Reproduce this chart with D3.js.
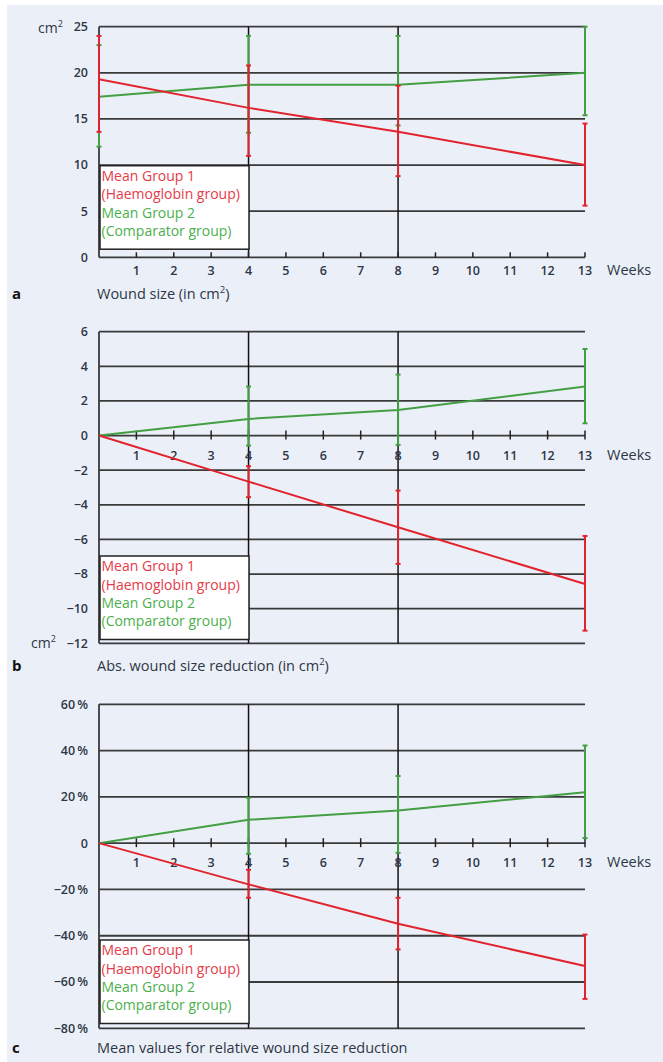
<!DOCTYPE html>
<html>
<head>
<meta charset="utf-8">
<script src="https://cdn.jsdelivr.net/npm/d3@7"></script>
<style>
  html, body { margin: 0; padding: 0; background: #fff; }
  svg { display: block; }
  text { font-family: "Open Sans", "Noto Sans", sans-serif; }
</style>
</head>
<body>
<svg id="chart" width="663" height="1062"></svg>
<script>
// data
const weeks = [0, 4, 8, 13];
const weekTicks = [1, 2, 3, 4, 5, 6, 7, 8, 9, 10, 11, 12, 13];

// a: wound size (cm2)
const sizeTicks = [0, 5, 10, 15, 20, 25];
const sizeG1 = [19.3, 16.2, 13.6, 10.0];
const sizeG1Lo = [13.6, 11.0, 8.8, 5.6];
const sizeG1Hi = [24.0, 20.8, 18.6, 14.5];
const sizeG2 = [17.4, 18.7, 18.7, 20.0];
const sizeG2Lo = [12.0, 13.5, 14.3, 15.4];
const sizeG2Hi = [23.0, 24.0, 24.0, 25.0];

// b: absolute reduction (cm2)
const absTicks = [6, 4, 2, 0, -2, -4, -6, -8, -10, -12];
const absG1 = [0, -2.66, -5.3, -8.57];
const absG1Lo = [null, -3.56, -7.41, -11.27];
const absG1Hi = [null, -1.77, -3.18, -5.8];
const absG2 = [0, 0.96, 1.48, 2.83];
const absG2Lo = [null, -0.58, -0.54, 0.71];
const absG2Hi = [null, 2.83, 3.52, 5.0];

// c: relative reduction (%)
const relTicks = [60, 40, 20, 0, -20, -40, -60, -80];
const relG1 = [0, -17.8, -34.8, -53.1];
const relG1Lo = [null, -23.6, -45.9, -67.3];
const relG1Hi = [null, -11.5, -23.6, -39.5];
const relG2 = [0, 10.1, 14.1, 22.0];
const relG2Lo = [null, -4.6, -4.2, 2.2];
const relG2Hi = [null, 19.6, 29.0, 42.2];

const legendLines = ["Mean Group 1", "(Haemoglobin group)", "Mean Group 2", "(Comparator group)"];

const red = "#e2232d", green = "#449f44";
const redText = "#e63a48", greenText = "#4bb04e";
const grid = "#3a3a3a", ink = "#2e3646";
const minus = "\u2212";

const svg = d3.select("#chart");
svg.append("rect").attr("x", 7).attr("y", 5).attr("width", 656).attr("height", 1057).attr("fill", "#ebf0f8");

const x = d3.scaleLinear().domain([0, 13]).range([99, 585]);

// green drawn first so the red group sits on top where bars overlap
const panels = [
    {letter: "a", title: ["Wound size (in cm", "2", ")"],
     y: d3.scaleLinear().domain([0, 25]).range([257.3, 26.7]), ticks: sizeTicks,
     fmt: d => `${d}`, axisAt: 0, crossTicks: false,
     unit: {x: 38, y: 33}, legendTop: 165.7, titleY: 299,
     series: [[sizeG2, sizeG2Lo, sizeG2Hi, green], [sizeG1, sizeG1Lo, sizeG1Hi, red]]},
    {letter: "b", title: ["Abs. wound size reduction (in cm", "2", ")"],
     y: d3.scaleLinear().domain([-12, 6]).range([643.3, 331.7]), ticks: absTicks,
     fmt: d => d < 0 ? `${minus}${-d}` : `${d}`, axisAt: 0, crossTicks: true,
     unit: {x: 31, y: 648}, legendTop: 556, titleY: 671,
     series: [[absG2, absG2Lo, absG2Hi, green], [absG1, absG1Lo, absG1Hi, red]]},
    {letter: "c", title: ["Mean values for relative wound size reduction"],
     y: d3.scaleLinear().domain([-80, 60]).range([1028.3, 704.3]), ticks: relTicks,
     fmt: d => d === 0 ? "0" : (d < 0 ? `${minus}${-d}\u2009%` : `${d}\u2009%`), axisAt: 0, crossTicks: true,
     unit: null, legendTop: 940, titleY: 1053,
     series: [[relG2, relG2Lo, relG2Hi, green], [relG1, relG1Lo, relG1Hi, red]]}
];

panels.forEach(p => {
    const g = svg.append("g");
    const y = p.y;
    const [y0, y1] = y.domain();

    // horizontal gridlines
    g.append("g").selectAll("line").data(p.ticks).enter().append("line")
        .attr("x1", x(0)).attr("x2", x(13))
        .attr("y1", d => y(d)).attr("y2", d => y(d))
        .style("stroke", grid).style("stroke-width", 1.8);

    // left axis + verticals at week 4 and 8
    g.append("line").attr("x1", x(0)).attr("x2", x(0)).attr("y1", y(y1)).attr("y2", y(y0))
        .style("stroke", grid).style("stroke-width", 1.8);
    g.append("g").selectAll("line").data([4, 8]).enter().append("line")
        .attr("x1", d => x(d)).attr("x2", d => x(d)).attr("y1", y(y1)).attr("y2", y(y0))
        .style("stroke", "#111").style("stroke-width", 1.5);

    // x ticks on the zero line
    const ay = y(p.axisAt);
    g.append("g").selectAll("line").data(weekTicks).enter().append("line")
        .attr("x1", d => x(d)).attr("x2", d => x(d))
        .attr("y1", ay - 5).attr("y2", p.crossTicks ? ay + 4 : ay)
        .style("stroke", "#222").style("stroke-width", 1.5);

    const lblY = ay + (p.crossTicks ? 24 : 18);
    g.append("g").selectAll("text").data(weekTicks).enter().append("text")
        .attr("x", d => x(d)).attr("y", lblY)
        .attr("text-anchor", "middle").attr("font-size", 12.5).attr("font-weight", 600).attr("fill", ink)
        .text(d => d);
    g.append("text").attr("x", 607).attr("y", lblY).attr("font-size", 14.5).attr("fill", ink).text("Weeks");

    // y tick labels
    g.append("g").selectAll("text").data(p.ticks).enter().append("text")
        .attr("x", 88).attr("y", d => y(d)).attr("dy", "0.35em")
        .attr("text-anchor", "end").attr("font-size", 12.5).attr("font-weight", 600).attr("fill", ink)
        .text(p.fmt);

    if (p.unit) {
        const u = g.append("text").attr("x", p.unit.x).attr("y", p.unit.y).attr("font-size", 14).attr("fill", ink);
        u.append("tspan").text("cm");
        u.append("tspan").attr("dy", -6).attr("font-size", 9).text("2");
    }

    // series lines and error bars
    p.series.forEach(([vals, lo, hi, col]) => {
        const pts = weeks.map((w, i) => [w, vals[i]]);
        g.append("path").datum(pts)
            .attr("d", d3.line().x(d => x(d[0])).y(d => y(d[1])))
            .style("fill", "none").style("stroke", col).style("stroke-width", 2);

        const bars = weeks.map((w, i) => ({w, lo: lo[i], hi: hi[i]})).filter(d => d.lo !== null);
        const eb = g.append("g").selectAll("g").data(bars).enter().append("g")
            .style("stroke", col).style("stroke-width", 2);
        eb.append("line").attr("x1", d => x(d.w)).attr("x2", d => x(d.w))
            .attr("y1", d => y(d.lo)).attr("y2", d => y(d.hi));
        eb.append("line").attr("x1", d => x(d.w) - 2.5).attr("x2", d => x(d.w) + 2.5)
            .attr("y1", d => y(d.lo)).attr("y2", d => y(d.lo));
        eb.append("line").attr("x1", d => x(d.w) - 2.5).attr("x2", d => x(d.w) + 2.5)
            .attr("y1", d => y(d.hi)).attr("y2", d => y(d.hi));
    });

    // legend box
    const lg = g.append("g").attr("transform", `translate(100, ${p.legendTop})`);
    lg.append("rect").attr("width", 149).attr("height", 83.5)
        .style("fill", "#fff").style("stroke", "#222").style("stroke-width", 1.5);
    lg.selectAll("text").data(legendLines).enter().append("text")
        .attr("x", 1.5).attr("y", (d, i) => 10.5 + i * 18.3).attr("dy", "0.35em")
        .attr("font-size", 14)
        .attr("fill", (d, i) => i < 2 ? redText : greenText)
        .text(d => d);

    // panel letter and title
    g.append("text").attr("x", 12).attr("y", p.titleY).attr("font-size", 15).attr("font-weight", 700)
        .attr("fill", "#111").text(p.letter);
    const t = g.append("text").attr("x", 97).attr("y", p.titleY).attr("font-size", 14.5).attr("fill", ink);
    t.append("tspan").text(p.title[0]);
    if (p.title.length > 1) {
        t.append("tspan").attr("dy", -6).attr("font-size", 9.5).text(p.title[1]);
        t.append("tspan").attr("dy", 6).text(p.title[2]);
    }
});
</script>
</body>
</html>
